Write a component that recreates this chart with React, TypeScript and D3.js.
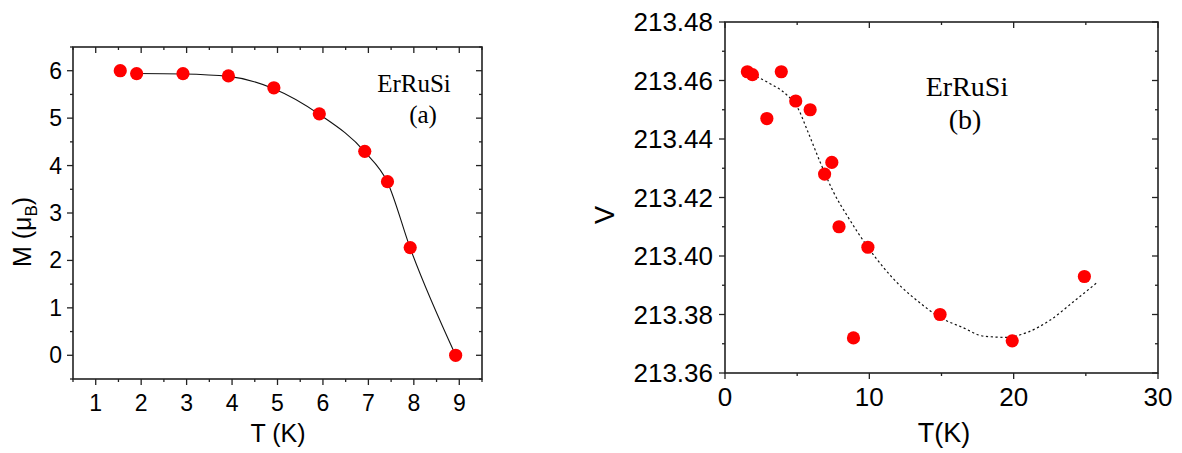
import React from "react";
import * as d3 from "d3";

// ---------- Panel (a) data ----------
const A_T = [1.54, 1.9, 2.92, 3.92, 4.92, 5.92, 6.92, 7.42, 7.92, 8.92];
const A_M = [6.0, 5.94, 5.94, 5.89, 5.64, 5.09, 4.3, 3.66, 2.27, 0.0];
const A_FIT_T = [1.9, 2.92, 3.92, 4.92, 5.92, 6.92, 7.42, 7.92, 8.92];
const A_FIT_M = [5.94, 5.93, 5.88, 5.62, 5.08, 4.29, 3.65, 2.26, 0.0];
const A_XTICKS = [1, 2, 3, 4, 5, 6, 7, 8, 9];
const A_XMINOR = [0.5, 1.5, 2.5, 3.5, 4.5, 5.5, 6.5, 7.5, 8.5, 9.5];
const A_YTICKS = [0, 1, 2, 3, 4, 5, 6];
const A_YMINOR = [-0.5, 0.5, 1.5, 2.5, 3.5, 4.5, 5.5, 6.5];

// ---------- Panel (b) data ----------
const B_T = [1.55, 1.9, 2.9, 3.9, 4.9, 5.9, 6.9, 7.4, 7.9, 8.9, 9.9, 14.9, 19.9, 24.9];
const B_V = [213.463, 213.462, 213.447, 213.463, 213.453, 213.45, 213.428, 213.432, 213.41, 213.372, 213.403, 213.38, 213.371, 213.393];
const B_FIT_T = [1.9, 3.1, 4.3, 5.0, 5.7, 6.6, 7.5, 8.5, 9.9, 12.1, 13.5, 14.9, 16.5, 17.9, 19.5, 21.0, 22.5, 24.3, 25.8];
const B_FIT_V = [213.462, 213.459, 213.455, 213.451, 213.443, 213.432, 213.422, 213.4135, 213.403, 213.39, 213.384, 213.379, 213.3755, 213.3726, 213.3722, 213.374, 213.378, 213.385, 213.391];
const B_XTICKS = [0, 10, 20, 30];
const B_XMINOR = [5, 15, 25];
const B_YTICKS = [213.36, 213.38, 213.4, 213.42, 213.44, 213.46, 213.48];
const B_YMINOR = [213.37, 213.39, 213.41, 213.43, 213.45, 213.47];

const AXIS = "#222";
const DOT = "#ff0000";
const SANS = "Arial, 'Liberation Sans', Helvetica, sans-serif";
const SERIF = "'Times New Roman', 'Liberation Serif', serif";

type FrameProps = {
  x: d3.ScaleLinear<number, number>;
  y: d3.ScaleLinear<number, number>;
  xt: number[];
  xm: number[];
  yt: number[];
  ym: number[];
  xfmt: (v: number) => string;
  yfmt: (v: number) => string;
  fs: number;
  xLabelY: number;
  yLabelGap: number;
};

function Frame({ x, y, xt, xm, yt, ym, xfmt, yfmt, fs, xLabelY, yLabelGap }: FrameProps) {
  const [x0, x1] = x.range();
  const [y0, y1] = y.range(); // y0 bottom, y1 top
  const MAJ = 6;
  const MIN = 3;
  const els: React.ReactNode[] = [];
  xt.forEach((v, i) => {
    const px = x(v);
    els.push(<line key={"xb" + i} x1={px} x2={px} y1={y0} y2={y0 + MAJ} />);
    els.push(<line key={"xt" + i} x1={px} x2={px} y1={y1} y2={y1 + MAJ} />);
  });
  xm.forEach((v, i) => {
    const px = x(v);
    els.push(<line key={"xbm" + i} x1={px} x2={px} y1={y0} y2={y0 + MIN} />);
    els.push(<line key={"xtm" + i} x1={px} x2={px} y1={y1} y2={y1 + MIN} />);
  });
  yt.forEach((v, i) => {
    const py = y(v);
    els.push(<line key={"yl" + i} x1={x0 - MAJ} x2={x0} y1={py} y2={py} />);
    els.push(<line key={"yr" + i} x1={x1 - MAJ} x2={x1} y1={py} y2={py} />);
  });
  ym.forEach((v, i) => {
    const py = y(v);
    els.push(<line key={"ylm" + i} x1={x0 - MIN} x2={x0} y1={py} y2={py} />);
    els.push(<line key={"yrm" + i} x1={x1 - MIN} x2={x1} y1={py} y2={py} />);
  });
  return (
    <g>
      <g stroke={AXIS} strokeWidth={1.3}>
        {els}
      </g>
      <rect x={x0} y={y1} width={x1 - x0} height={y0 - y1} fill="none" stroke={AXIS} strokeWidth={1.6} />
      <g fontFamily={SANS} fontSize={fs} fill="#000">
        {xt.map((v, i) => (
          <text key={"xl" + i} x={x(v)} y={xLabelY} textAnchor="middle">
            {xfmt(v)}
          </text>
        ))}
        {yt.map((v, i) => (
          <text key={"yl" + i} x={x0 - yLabelGap} y={y(v)} textAnchor="end" dominantBaseline="central">
            {yfmt(v)}
          </text>
        ))}
      </g>
    </g>
  );
}

export default function App() {
  // Panel (a)
  const ax = d3.scaleLinear().domain([0.5, 9.5]).range([73, 482]);
  const ay = d3.scaleLinear().domain([-0.5, 6.5]).range([379, 47]);
  const aLine = d3
    .line<number>()
    .x((_, i) => ax(A_FIT_T[i]))
    .y((d) => ay(d))
    .curve(d3.curveMonotoneX);

  // Panel (b)
  const bx = d3.scaleLinear().domain([0, 30]).range([725, 1158]);
  const by = d3.scaleLinear().domain([213.36, 213.48]).range([373, 22]);
  const bLine = d3
    .line<number>()
    .x((_, i) => bx(B_FIT_T[i]))
    .y((d) => by(d))
    .curve(d3.curveMonotoneX);

  return (
    <svg
      width={1182}
      height={453}
      style={{ position: "absolute", left: 0, top: 0, background: "#fff" }}
    >
      <rect x={0} y={0} width={1182} height={453} fill="#fff" />

      {/* ----- Panel (a) ----- */}
      <Frame
        x={ax}
        y={ay}
        xt={A_XTICKS}
        xm={A_XMINOR}
        yt={A_YTICKS}
        ym={A_YMINOR}
        xfmt={(v) => String(v)}
        yfmt={(v) => String(v)}
        fs={23}
        xLabelY={411}
        yLabelGap={11}
      />
      <path d={aLine(A_FIT_M) || ""} fill="none" stroke="#111" strokeWidth={1.1} />
      {A_T.map((t, i) => (
        <circle key={"a" + i} cx={ax(t)} cy={ay(A_M[i])} r={6.6} fill={DOT} />
      ))}
      <text x={278} y={442} textAnchor="middle" fontFamily={SANS} fontSize={25}>
        T (K)
      </text>
      <text
        transform="translate(31,232) rotate(-90)"
        textAnchor="middle"
        fontFamily={SANS}
        fontSize={25}
      >
        M (μ<tspan fontSize={17} dy={6}>B</tspan>
        <tspan dy={-6}>)</tspan>
      </text>
      <text x={414} y={92} textAnchor="middle" fontFamily={SERIF} fontSize={25}>
        ErRuSi
      </text>
      <text x={423} y={123} textAnchor="middle" fontFamily={SERIF} fontSize={25}>
        (a)
      </text>

      {/* ----- Panel (b) ----- */}
      <Frame
        x={bx}
        y={by}
        xt={B_XTICKS}
        xm={B_XMINOR}
        yt={B_YTICKS}
        ym={B_YMINOR}
        xfmt={(v) => String(v)}
        yfmt={(v) => d3.format(".2f")(v)}
        fs={26}
        xLabelY={406}
        yLabelGap={12}
      />
      <path
        d={bLine(B_FIT_V) || ""}
        fill="none"
        stroke="#111"
        strokeWidth={1.2}
        strokeDasharray="2.2,2.6"
      />
      {B_T.map((t, i) => (
        <circle key={"b" + i} cx={bx(t)} cy={by(B_V[i])} r={6.6} fill={DOT} />
      ))}
      <text x={944} y={442} textAnchor="middle" fontFamily={SANS} fontSize={27}>
        T(K)
      </text>
      <text
        transform="translate(614,215) rotate(-90)"
        textAnchor="middle"
        fontFamily={SANS}
        fontSize={27}
      >
        V
      </text>
      <text x={967} y={96} textAnchor="middle" fontFamily={SERIF} fontSize={28}>
        ErRuSi
      </text>
      <text x={965} y={129} textAnchor="middle" fontFamily={SERIF} fontSize={28}>
        (b)
      </text>
    </svg>
  );
}
